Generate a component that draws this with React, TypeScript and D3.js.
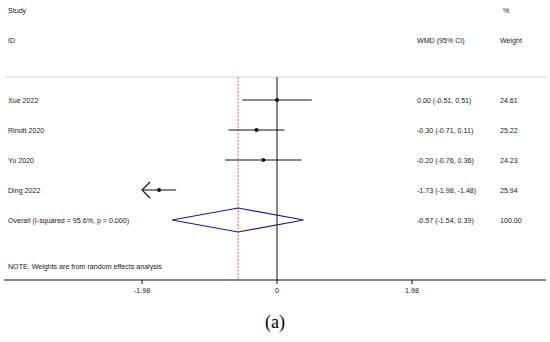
import React from "react";
import * as d3 from "d3";

const studies = ["Xue 2022", "Rinott 2020", "Yu 2020", "Ding 2022"];
const est = [0.0, -0.3, -0.2, -1.73];
const lo = [-0.51, -0.71, -0.76, -1.98];
const hi = [0.51, 0.11, 0.36, -1.48];
const ciText = ["0.00 (-0.51, 0.51)", "-0.30 (-0.71, 0.11)", "-0.20 (-0.76, 0.36)", "-1.73 (-1.98, -1.48)"];
const weights = ["24.61", "25.22", "24.23", "25.94"];
const overall = { label: "Overall  (I-squared = 95.6%, p = 0.000)", est: -0.57, lo: -1.54, hi: 0.39, ci: "-0.57 (-1.54, 0.39)", w: "100.00" };
const ticks = [-1.98, 0, 1.98];

const W = 550, H = 342;
const font = "'Liberation Sans', Arial, sans-serif";

export default function App() {
  const x = d3.scaleLinear().domain([-1.98, 1.98]).range([142, 412]);
  const y = d3.scaleLinear().domain([0, 4]).range([100, 220]);
  const top = 77, axisY = 280;
  const lineGen = d3.line<[number, number]>();
  const txt = { fontFamily: font, fontSize: 7.1, fill: "#1a1a1a" };

  return (
    <svg width={W} height={H} style={{ position: "absolute", left: 0, top: 0, background: "#fff" }}>
      <text x={8} y={13} {...txt}>Study</text>
      <text x={8} y={43} {...txt}>ID</text>
      <text x={503} y={13} {...txt}>%</text>
      <text x={417} y={43} {...txt}>WMD (95% CI)</text>
      <text x={500} y={43} {...txt}>Weight</text>
      <line x1={4} x2={546} y1={top} y2={top} stroke="#ccc" strokeWidth={0.8} />
      <line x1={x(0)} x2={x(0)} y1={top} y2={axisY} stroke="#111" strokeWidth={1} />
      <line x1={x(overall.est)} x2={x(overall.est)} y1={top} y2={axisY} stroke="#e0606a" strokeWidth={1} strokeDasharray="2,1.5" />
      {studies.map((s, i) => (
        <g key={s}>
          <text x={8} y={y(i) + 3} {...txt}>{s}</text>
          {lo[i] <= -1.98 ? (
            <>
              <line x1={x(-1.98)} x2={x(hi[i])} y1={y(i)} y2={y(i)} stroke="#111" strokeWidth={1.2} />
              <path d={lineGen([[x(-1.98) + 8, y(i) - 8], [x(-1.98), y(i)], [x(-1.98) + 8, y(i) + 8]]) ?? ""} fill="none" stroke="#111" strokeWidth={1.2} />
            </>
          ) : (
            <line x1={x(lo[i])} x2={x(hi[i])} y1={y(i)} y2={y(i)} stroke="#111" strokeWidth={1.2} />
          )}
          <circle cx={x(est[i])} cy={y(i)} r={2} fill="#111" />
          <text x={417} y={y(i) + 3} {...txt}>{ciText[i]}</text>
          <text x={500} y={y(i) + 3} {...txt}>{weights[i]}</text>
        </g>
      ))}
      <text x={8} y={y(4) + 3} {...txt}>{overall.label}</text>
      <path
        d={lineGen([[x(overall.lo), y(4)], [x(overall.est), y(4) - 12], [x(overall.hi), y(4)], [x(overall.est), y(4) + 12], [x(overall.lo), y(4)]]) ?? ""}
        fill="none" stroke="#1c1c8c" strokeWidth={1.2}
      />
      <text x={417} y={y(4) + 3} {...txt}>{overall.ci}</text>
      <text x={500} y={y(4) + 3} {...txt}>{overall.w}</text>
      <text x={8} y={269} {...txt}>NOTE: Weights are from random effects analysis</text>
      <line x1={4} x2={546} y1={axisY} y2={axisY} stroke="#111" strokeWidth={1} />
      {ticks.map(t => (
        <g key={t}>
          <line x1={x(t)} x2={x(t)} y1={axisY} y2={axisY + 4} stroke="#111" strokeWidth={1} />
          <text x={x(t)} y={axisY + 13} textAnchor="middle" {...txt}>{t === 0 ? "0" : String(t)}</text>
        </g>
      ))}
      <text x={275} y={328} textAnchor="middle" fontFamily="'Liberation Serif', 'Times New Roman', serif" fontSize={18} fill="#000">(a)</text>
    </svg>
  );
}
